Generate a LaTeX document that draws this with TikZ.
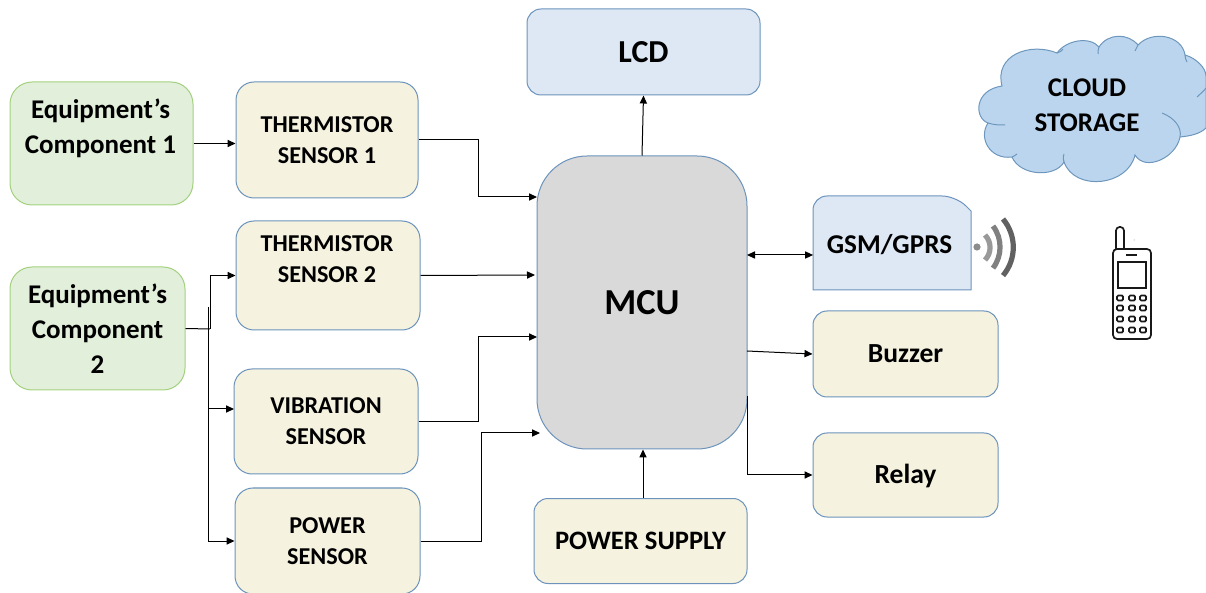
\documentclass[tikz,border=0pt]{standalone}
\usepackage{fontspec}
\setmainfont{Carlito}
\usetikzlibrary{positioning, arrows.meta, calc}
\definecolor{cGreenFill} {HTML}{E2EFDA}
\definecolor{cGreenLine} {HTML}{A3D17F}
\definecolor{cCreamFill} {HTML}{F5F2DF}
\definecolor{cBlueLine}  {HTML}{6C93BC}
\definecolor{cGrayFill}  {HTML}{D9D9D9}
\definecolor{cPaleBlue}  {HTML}{DEE8F5}
\definecolor{cCloudFill} {HTML}{BBD5EE}
\definecolor{cCloudLine} {HTML}{6E97BD}
\tikzset{
  block/.style={draw=cBlueLine, line width=0.5pt, fill=cCreamFill, rounded corners=9pt,
    align=center, inner sep=0pt, font=\fontsize{12.1}{15.5}\selectfont\bfseries},
  equipbox/.style={block, draw=cGreenLine, fill=cGreenFill, rounded corners=11pt,
    font=\fontsize{13.5}{17.5}\selectfont\bfseries},
  outbox/.style={block, rounded corners=7pt, font=\fontsize{13.8}{15}\selectfont\bfseries},
  plaintext/.style={align=center, inner sep=0pt},
  wire/.style={line width=0.5pt, -{Triangle[length=4pt,width=3.6pt]}},
  wirejoin/.style={line width=0.5pt},
  phoneline/.style={line width=0.85pt, black!90},
  wave/.style={line width=2.6pt},
}
\begin{document}
\begin{tikzpicture}[x=0.5pt, y=-0.5pt]
  \useasboundingbox (0,0) rectangle (1206,593);
  % input side
  \node[equipbox, minimum width=91.5pt, minimum height=61.5pt] (equipA) at (101.5,143.5) {};
  \node[plaintext, font=\fontsize{13.5}{17.5}\selectfont\bfseries] (equipAtext) at (100.5,128.5) {Equipment’s\\Component 1};
  \node[equipbox, minimum width=87.5pt, minimum height=61.5pt] (equipB) at (97.5,328.5) {Equipment’s\\Component\\2};
  \node[block, minimum width=91pt, minimum height=58pt] (thermA) at (327,140) {THERMISTOR\\SENSOR 1};
  \node[block, minimum width=92pt, minimum height=54.5pt] (thermB) at (328,275.5) {};
  \node[plaintext, font=\fontsize{12.1}{15.5}\selectfont\bfseries] (thermBtext) at (327,259.5) {THERMISTOR\\SENSOR 2};
  \node[block, minimum width=92pt, minimum height=52.5pt] (vibr) at (326,421.5) {VIBRATION\\SENSOR};
  \node[block, minimum width=92.5pt, minimum height=53pt] (powsens) at (327.5,541) {POWER\\SENSOR};
  % centre
  \node[block, fill=cGrayFill, rounded corners=25pt, minimum width=105pt, minimum height=146.5pt,
        font=\fontsize{18.3}{22}\selectfont\bfseries] (mcu) at (642,302.5) {MCU};
  \node[outbox, fill=cPaleBlue, minimum width=116.5pt, minimum height=43pt,
        font=\fontsize{16}{18}\selectfont\bfseries] (lcd) at (643.5,52) {LCD};
  \node[outbox, minimum width=106.5pt, minimum height=42.5pt,
        font=\fontsize{13.3}{15}\selectfont\bfseries] (supply) at (640.5,541) {POWER SUPPLY};
  % output side
  \draw[draw=cBlueLine, fill=cPaleBlue, line width=0.5pt, rounded corners=7pt]
    (813,290) -- (813,196) -- (956,196) [sharp corners] -- (971,211) -- (971,290) -- cycle;
  \node[minimum width=79pt, minimum height=47pt, inner sep=0pt] (gsm) at (892.5,243) {};
  \node[plaintext, font=\fontsize{13.6}{15}\selectfont\bfseries] (gsmtext) at (889.5,245) {GSM/GPRS};
  \node[outbox, minimum width=92.5pt, minimum height=43pt] (buzzer) at (905.5,354) {Buzzer};
  \node[outbox, minimum width=92.5pt, minimum height=42pt] (relay) at (905.5,475) {};
  \node[plaintext, font=\fontsize{13.8}{15}\selectfont\bfseries] (relaytext) at (905.5,475.5) {Relay};
  % cloud
  \draw[draw=cCloudLine, fill=cCloudFill, line width=0.5pt]
    (1002,86) .. controls (994,55) and (1030,42) .. (1057,53)
    .. controls (1066,40) and (1090,36) .. (1099,47)
    .. controls (1108,33) and (1128,33) .. (1138,45)
    .. controls (1152,30) and (1182,35) .. (1185,55)
    .. controls (1196,58) and (1206,68) .. (1206,76)
    -- (1206,128)
    .. controls (1200,134) and (1190,136) .. (1180,137)
    .. controls (1176,158) and (1145,172) .. (1135,155)
    .. controls (1128,186) and (1075,192) .. (1064,162)
    .. controls (1055,178) and (1020,176) .. (1012,157)
    .. controls (990,160) and (978,138) .. (988,123)
    .. controls (974,118) and (974,90) .. (1002,86) -- cycle;
  \draw[draw=cCloudLine, line width=0.5pt]
    (988,123) .. controls (994,125) and (1000,125) .. (1005,125)
    (1012,157) .. controls (1014,156) and (1016,155) .. (1017,154)
    (1064,162) .. controls (1063,158) and (1063,156) .. (1064,154)
    (1162,113) .. controls (1175,118) and (1182,128) .. (1180,137)
    (1185,55) .. controls (1185,58) and (1186,60) .. (1187,62)
    (1197,97) .. controls (1200,94) and (1203,92) .. (1206,88)
    (1057,53) .. controls (1060,52) and (1062,51) .. (1063,49)
    (1099,47) .. controls (1098,49) and (1098,52) .. (1098,54)
    (1138,45) .. controls (1137,47) and (1136,49) .. (1135,51);
  \node[plaintext, font=\fontsize{13.5}{17.5}\selectfont\bfseries] (cloud) at (1087,105.5) {CLOUD\\STORAGE};
  % signal waves
  \fill[black!45] (977,247) circle [radius=3.6];
  \draw[wave, black!40] (985,235) arc[start angle=-44, end angle=44, radius=18];
  \draw[wave, black!50] (993,226) arc[start angle=-37, end angle=37, radius=35];
  \draw[wave, black!62] (1003,219) arc[start angle=-40, end angle=40, radius=44];
  % phone
  \draw[phoneline, rounded corners=2pt] (1113,249) rectangle (1151,339);
  \draw[phoneline, rounded corners=1.8pt] (1116,249) -- (1116,227) -- (1124,227) -- (1124,249);
  \draw[phoneline] (1118,262) rectangle (1146,288);
  \draw[phoneline] (1126,255) -- (1137,255);
  \fill[black!50] (1134,240) circle [radius=0.5];
  \foreach \row in {298,308,319,330}{
    \foreach \col in {1120,1132,1143}{
      \draw[phoneline, rounded corners=0.6pt] (\col-3,\row-2.5) rectangle (\col+3,\row+2.5);
    }
  }
  % connectors
  \coordinate (mcuA) at (537,197);
  \coordinate (mcuB) at (535,275);
  \coordinate (mcuC) at (537,337);
  \coordinate (mcuD) at (540,433);
  \coordinate (mcuE) at (747,255);
  \coordinate (mcuF) at (747,351);
  \coordinate (mcuG) at (747,396);
  \coordinate (supplyout) at (643,498);
  \coordinate (splitA) at (210,329);
  \coordinate (splitB) at (208,307);
  \coordinate (vibrin) at (234,409);
  \draw[wire] (equipA.east) -- (equipA.east -| thermA.west);
  \draw[wire] (thermA.east) -- (478,140) -- (478,197) -- (mcuA);
  \draw[wire] (thermB.east) -- (mcuB);
  \draw[wire] (vibr.east) -- (478,421.5) -- (478,337) -- (mcuC);
  \draw[wire] (powsens.east) -- (481,541) -- (481,433) -- (mcuD);
  \draw[wire] (mcu.north) -- (lcd.south);
  \draw[wire] (supplyout) -- (supplyout |- mcu.south);
  \draw[wire, {Triangle[length=4pt,width=3.6pt]}-{Triangle[length=4pt,width=3.6pt]}] (mcuE) -- (mcuE -| gsm.west);
  \draw[wire] (mcuF) -- (buzzer.west);
  \draw[wire] (mcuG) -- (mcuG |- relay.west) -- (relay.west);
  \draw[wirejoin] (equipB.east) -- (splitA);
  \draw[wire] (splitA) -- (splitA |- thermB.west) -- (thermB.west);
  \draw[wire] (splitB) -- (splitB |- powsens.west) -- (powsens.west);
  \draw[wire] (splitB |- vibrin) -- (vibrin);
\end{tikzpicture}
\end{document}
